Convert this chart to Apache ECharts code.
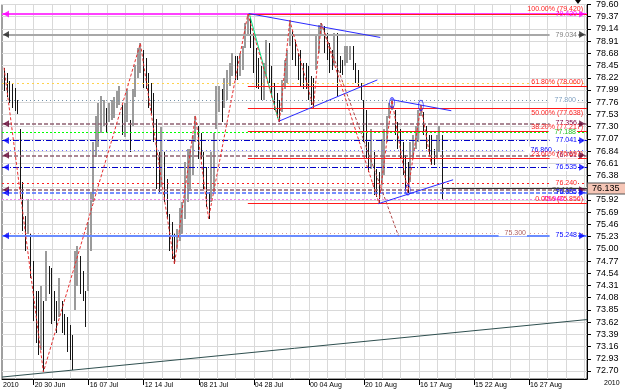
<!DOCTYPE html>
<html>
<head>
<meta charset="utf-8">
<title>Chart</title>
<script src="https://cdn.jsdelivr.net/npm/echarts@6/dist/echarts.min.js"></script>
<style>
html,body{margin:0;padding:0;background:#ffffff;}
#chart{width:625px;height:389px;}
</style>
</head>
<body>
<div id="chart"></div>
<script>
// ---------- data ----------
const barHighs = [
78.41,78.31,78.16,78.13,78.03,77.81,77.25,76.26,75.61,75.94,
75.27,74.77,74.21,74.21,74.30,74.02,74.95,74.68,74.64,74.21,
74.02,74.45,74.02,73.78,73.71,73.56,73.37,74.95,75.05,74.86,
74.58,74.21,75.51,76.07,77.01,77.51,77.75,77.88,77.81,77.66,
77.75,77.81,77.85,77.98,78.07,77.70,77.75,78.00,77.42,78.00,
78.46,78.78,78.87,78.74,78.59,78.31,78.13,77.94,77.44,76.82,
77.29,76.82,76.32,75.65,75.51,75.27,75.37,75.76,75.89,76.63,
76.88,76.88,77.14,77.51,77.32,77.19,76.82,76.54,76.07,76.82,
77.19,78.07,78.07,78.00,78.22,78.37,78.50,78.69,78.63,78.63,
78.69,78.82,79.25,79.42,79.34,79.06,78.78,78.59,78.44,78.50,
78.93,78.87,78.44,78.13,77.94,77.81,78.18,78.56,78.74,79.30,
79.11,78.93,78.69,78.74,78.50,78.50,78.44,78.26,78.22,79.00,
79.21,79.25,79.19,79.06,78.87,78.74,79.06,79.06,78.63,78.56,
78.82,78.82,78.82,78.82,78.50,78.37,78.13,77.81,77.62,77.01,
77.25,76.82,76.50,76.45,77.06,77.25,77.51,77.75,77.80,77.62,
77.38,77.25,77.01,76.76,76.63,77.01,77.14,77.32,77.62,77.70,
77.57,77.32,77.14,77.14,76.88,77.14,77.32,77.14];
const barLows = [
77.98,77.85,77.75,77.66,77.60,77.53,75.94,75.33,74.95,75.27,
74.45,73.65,73.22,73.00,73.09,72.68,74.02,74.15,73.59,73.65,
73.41,73.71,73.41,73.37,73.05,72.90,72.72,73.84,74.30,74.15,
74.02,73.52,74.21,74.95,75.89,76.73,76.91,77.19,77.32,77.19,
77.38,77.42,77.47,77.66,77.70,77.14,77.10,77.38,76.82,77.32,
77.85,78.22,78.31,78.03,78.00,77.66,77.53,77.01,76.13,76.07,
76.17,75.89,75.57,74.95,74.81,74.71,74.99,75.14,75.27,75.57,
75.89,76.13,76.39,77.01,76.69,76.69,76.13,75.79,75.57,75.89,
76.07,77.25,77.57,77.38,77.66,77.81,78.07,78.26,78.18,78.18,
78.26,78.37,78.78,79.00,78.78,78.31,78.03,78.00,77.81,77.81,
78.26,78.13,77.88,77.62,77.47,77.38,77.57,78.00,78.13,78.82,
78.56,78.44,78.18,78.07,78.00,78.00,77.81,77.70,77.66,78.37,
78.69,79.00,78.69,78.56,78.31,78.37,78.44,77.88,78.31,78.28,
78.44,78.50,78.56,78.37,78.13,78.07,77.81,77.01,76.69,76.45,
76.50,76.02,75.98,75.86,76.20,76.39,77.01,77.47,77.62,77.14,
76.88,76.69,76.39,76.13,76.06,76.26,76.69,76.88,77.01,77.51,
77.14,76.88,76.76,76.58,76.58,76.69,76.82,75.94];

const zigzagPivots = [[0,'H'],[15,'L'],[52,'H'],[65,'L'],[73,'H'],[78,'L'],[93,'H'],[105,'L'],[109,'H'],[118,'L'],[121,'H'],[143,'L'],[148,'H'],[154,'L'],[159,'H'],[163,'L']];

const yTickValues = [72.70,72.93,73.16,73.39,73.62,73.85,74.08,74.31,74.54,74.77,75.00,75.23,75.46,75.69,75.92,76.15,76.38,76.61,76.84,77.07,77.30,77.53,77.76,77.99,78.22,78.45,78.68,78.91,79.14,79.37,79.60];
const xGridValues = [4.28,11.28,18.28,25.28,32.28,39.28,46.28,53.28,60.28,67.28,74.28,81.28,88.28,95.28,102.28,109.28,116.28,123.28,130.28,137.28,144.28,151.28,158.28,165.28,172.28,179.28,186.28,193.28,200.28,207.28,214.28,221.28];
const xTickValues = [11.28,32.28,53.28,74.28,95.28,116.28,137.28,158.28,179.28,200.28];
const xLabelValues = [-0.785,11.28,32.28,53.28,74.28,95.28,116.28,137.28,158.28,179.28,200.28];
const xLabelTexts = ['2010','20 30 Jun','16 07 Jul','12 14 Jul','08 21 Jul','04 28 Jul','00 04 Aug','20 10 Aug','16 17 Aug','15 22 Aug','16 27 Aug'];

const levelValues = [79.420,79.034,78.120,77.800,77.356,77.188,77.041,76.860,76.761,76.535,76.240,76.112,76.055,75.940,75.300,75.248];
const levelLabels = ['79.420','79.034','','77.800','77.356','77.188','77.041','76.860','76.761','76.535','76.240','76.112','76.055','75.940','75.300','75.248'];
const arrowLevels = [79.420,79.034,77.356,77.041,76.761,76.535,76.112,76.055,75.248];

const fibLevels = [79.420,78.060,77.638,77.217,76.697,75.856];
const fibNames = ['100.00%','61.80%','50.00%','38.20%','23.60%','0.00%'];
const fibStartIndex = 93;

const trendLong = [[-0.785,72.586],[222.37,73.668]];
const channelTop1 = [[93.3,79.43],[143.5,78.98]];
const channelBot1 = [[104.7,77.40],[142.4,78.18]];
const channelTop2 = [[147.7,77.81],[170.6,77.60]];
const channelBot2 = [[142.8,75.85],[171.3,76.30]];
const greenLine = [[93.7,79.40],[104.7,77.42]];
const projectionLine = [[121,79.25],[150.4,75.25]];
const ellipsePoints = [[148,77.75],[159,77.70],[154,76.11]];
const lastPrice = 76.135;
const lastIndex = 167;

// ---------- layout / style (not data) ----------
const X_MIN = -0.785, X_MAX = 222.37, Y_MIN = 72.549, Y_MAX = 79.60;
const FONT = 'Liberation Sans, Arial, sans-serif';
const MAROON = '#8f6272';
const levelStyles = [
 {c:'#ff40ff', w:2, t:'solid', lc:'#ff00ff', dx:9, bg:false},
 {c:'#a8a8a8', w:2, t:'solid', lc:'#808080', dx:9, bg:true},
 {c:'#ffd24d', w:1, t:[2,3], lc:'#e0b000', dx:9, bg:false},
 {c:'#7090a8', w:1, t:[1,3], lc:'#7fa0c0', dx:10, bg:true},
 {c:MAROON, w:1.5, t:[4,2], lc:'#800040', dx:9, bg:true},
 {c:'#00ff00', w:1, t:[2,2], lc:'#20c020', dx:10, bg:true},
 {c:'#0000c8', w:1, t:[6,2,1,2], lc:'#0000ff', dx:9, bg:true},
 {c:'#6a6aff', w:1, t:[1,3], lc:'#0000ff', dx:34, bg:true},
 {c:MAROON, w:1.5, t:[4,2], lc:'#800040', dx:9, bg:true},
 {c:'#0000c8', w:1, t:[6,2,1,2], lc:'#0000ff', dx:9, bg:true},
 {c:'#ff2020', w:1, t:[2,3], lc:'#ff2020', dx:9, bg:true},
 {c:MAROON, w:1.5, t:[4,2], lc:'#505050', dx:13, bg:false},
 {c:'#4a6aff', w:1.5, t:[4,2], lc:'#0000ff', dx:9, bg:false},
 {c:'#ee88ee', w:1, t:[2,2], lc:'#ff00ff', dx:22, bg:false},
 {c:'#d49a9a', w:1, t:[1,3], lc:'#b06060', dx:60, bg:true},
 {c:'#6a8cff', w:2, t:'solid', lc:'#0000ff', dx:9, bg:true}
];
const arrowColors = ['#ff00ff','#202020','#600030','#0000ff','#600030','#0000ff','#600030','#0000ff','#0000ff'];

const barData = barHighs.map(function (h, k) {
  const mid = (h + barLows[k]) / 2;
  const prev = k ? (barHighs[k - 1] + barLows[k - 1]) / 2 : mid;
  return [k, h, barLows[k], mid > prev ? 1 : 0];
});
const zigzagData = zigzagPivots.map(function (p) {
  return [p[0], p[1] === 'H' ? barHighs[p[0]] : barLows[p[0]]];
});

function lineSeries(pts, color, type, width, z) {
  return {type: 'line', data: pts, symbol: 'none', silent: true, animation: false,
    lineStyle: {color: color, type: type, width: width}, z: z};
}

const arrowData = [];
arrowLevels.forEach(function (v, k) {
  arrowData.push({value: [0.75, v], symbolRotate: 90, itemStyle: {color: arrowColors[k]}});
  arrowData.push({value: [220.5, v], symbolRotate: -90, itemStyle: {color: arrowColors[k]}});
});

const levelMarks = levelValues.map(function (v, k) {
  const s = levelStyles[k];
  return {
    yAxis: v,
    lineStyle: {color: s.c, width: s.w, type: s.t},
    label: {
      show: levelLabels[k] !== '', formatter: levelLabels[k], position: 'insideEnd',
      distance: [s.dx, 0], color: s.lc, fontSize: 7, fontFamily: FONT,
      backgroundColor: s.bg ? '#ffffff' : 'transparent', padding: [0, 1, 0, 6]
    }
  };
});

const fibMarks = fibLevels.map(function (v, k) {
  return [
    {coord: [fibStartIndex, v], lineStyle: {color: '#ff1a1a', width: 1, type: 'solid'},
      label: {show: true, formatter: fibNames[k] + ' (' + v.toFixed(3) + ')',
        position: k === 2 ? 'insideEndBottom' : 'insideEndTop', distance: [4, 1],
        color: '#ff2020', fontSize: 7, fontFamily: FONT}},
    {coord: [X_MAX, v]}
  ];
});

const chart = echarts.init(document.getElementById('chart'), null, {renderer: 'canvas'});
chart.setOption({
  animation: false,
  backgroundColor: '#ffffff',
  grid: {left: 1, right: 38, top: 1, bottom: 10, show: true, borderColor: '#404040', borderWidth: 1, backgroundColor: '#ffffff'},
  xAxis: [
    {type: 'value', min: X_MIN, max: X_MAX, position: 'bottom',
      axisLine: {show: true, onZero: false, lineStyle: {color: '#000', width: 1}},
      axisTick: {show: true, customValues: xTickValues, length: 6, lineStyle: {color: '#000'}},
      axisLabel: {show: true, customValues: xLabelValues, align: 'left', margin: 3, padding: [0, 0, 0, 1],
        color: '#000', fontSize: 7, fontFamily: FONT, showMinLabel: true,
        formatter: function (v) {
          let best = 0;
          for (let k = 0; k < xLabelValues.length; k++) {
            if (Math.abs(xLabelValues[k] - v) < Math.abs(xLabelValues[best] - v)) best = k;
          }
          return xLabelTexts[best];
        }},
      splitLine: {show: false}},
    {type: 'value', min: X_MIN, max: X_MAX, position: 'top',
      axisLine: {show: false}, axisTick: {show: false, customValues: xGridValues},
      axisLabel: {show: false, customValues: xGridValues},
      splitLine: {show: true, lineStyle: {color: '#d9d9d9', width: 1}}}
  ],
  yAxis: {type: 'value', min: Y_MIN, max: Y_MAX, position: 'right',
    axisLine: {show: true, onZero: false, lineStyle: {color: '#000', width: 1}},
    axisTick: {show: true, customValues: yTickValues, length: 4, lineStyle: {color: '#000'}},
    axisLabel: {customValues: yTickValues, formatter: function (v) { return v.toFixed(2); },
      color: '#000', fontSize: 9, fontFamily: FONT, margin: 9},
    splitLine: {show: true, lineStyle: {color: '#d9d9d9', width: 1}}},
  series: [
    {type: 'custom', data: barData, z: 3, silent: true, clip: true,
      encode: {x: 0, y: [1, 2]},
      renderItem: function (params, api) {
        const i = api.value(0);
        const top = api.coord([i, api.value(1)]);
        const bot = api.coord([i, api.value(2)]);
        const up = api.value(3) > 0;
        const x = up ? Math.round(top[0]) : Math.round(top[0]) + 0.5;
        return {type: 'line', shape: {x1: x, y1: Math.round(top[1]), x2: x, y2: Math.round(bot[1])},
          style: {stroke: up ? '#9a9a9a' : '#141414', lineWidth: up ? 2 : 1}};
      }},
    {type: 'line', data: [], z: 4, silent: true,
      markLine: {silent: true, symbol: 'none', animation: false, data: levelMarks}},
    {type: 'line', data: [], z: 6, silent: true,
      markLine: {silent: true, symbol: 'none', animation: false, data: fibMarks}},
    {type: 'line', data: [], z: 7, silent: true,
      markLine: {silent: true, symbol: 'none', animation: false, data: [[
        {coord: [lastIndex, lastPrice], lineStyle: {color: '#303030', width: 1, type: 'solid'},
          label: {show: true, position: 'end', distance: 1, formatter: lastPrice.toFixed(3),
            color: '#000', fontSize: 9, fontFamily: FONT, backgroundColor: '#f6c6b6',
            borderColor: '#555', borderWidth: 1, padding: [1, 6, 0, 4]}},
        {coord: [X_MAX, lastPrice]}]]}},
    lineSeries(trendLong, '#2f4f4f', 'solid', 1, 8),
    lineSeries(channelTop1, '#2a2aff', 'solid', 1, 8),
    lineSeries(channelBot1, '#2a2aff', 'solid', 1, 8),
    lineSeries(channelTop2, '#2a2aff', 'solid', 1, 8),
    lineSeries(channelBot2, '#2a2aff', 'solid', 1, 8),
    lineSeries(greenLine, '#00e080', 'solid', 1, 8),
    lineSeries(zigzagData, '#e83030', [3, 2], 1, 8),
    lineSeries(projectionLine, '#b04848', [3, 2], 1, 8),
    {type: 'scatter', data: ellipsePoints, symbol: 'circle', symbolSize: [5, 10], z: 9, silent: true,
      itemStyle: {color: 'rgba(0,0,0,0)', borderColor: '#2020ff', borderWidth: 1}},
    {type: 'scatter', data: arrowData, symbol: 'triangle', symbolSize: [7, 6], z: 9, silent: true}
  ],
  graphic: [
    {type: 'polygon', shape: {points: [[575, 0], [581, 0], [578, 4]]}, style: {fill: '#000'}, z: 100},
    {type: 'text', left: 604, top: 380, style: {text: '2010', fill: '#000', font: '7px ' + FONT}, z: 100}
  ]
});
</script>
</body>
</html>
